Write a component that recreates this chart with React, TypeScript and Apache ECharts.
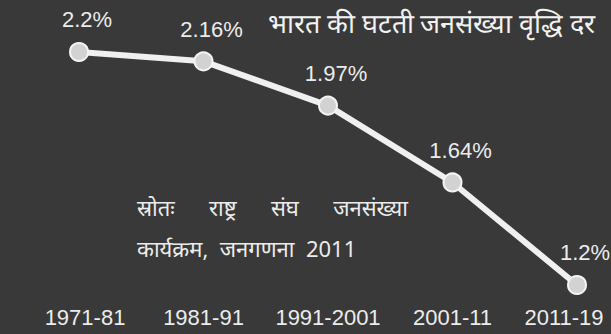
import React, { useEffect, useRef } from "react";
import * as echarts from "echarts";

const categories = ["1971-81", "1981-91", "1991-2001", "2001-11", "2011-19"];
const growthRate = [2.2, 2.16, 1.97, 1.64, 1.2];
const valueLabels = ["2.2%", "2.16%", "1.97%", "1.64%", "1.2%"];
const titleText = "भारत की घटती जनसंख्या वृद्धि दर";
const sourceLine1 = "स्रोतः      राष्ट्र      संघ      जनसंख्या";
const sourceLine2 = "कार्यक्रम,  जनगणना  2011";

export default function App() {
  const ref = useRef<HTMLDivElement>(null);
  useEffect(() => {
    if (!ref.current) return;
    const chart = echarts.init(ref.current, null, { renderer: "svg" });
    const textColor = "#ececec";
    const lastIndex = categories.length - 1;
    chart.setOption({
      animation: false,
      backgroundColor: "#393939",
      title: {
        text: titleText,
        left: 263,
        top: 5,
        textStyle: {
          color: "#f2f2f2",
          fontSize: 27,
          fontWeight: "normal",
          fontFamily: "serif",
        },
      },
      graphic: [
        {
          type: "text",
          left: 137,
          top: 196,
          style: {
            text: sourceLine1,
            fill: textColor,
            fontSize: 22,
            fontFamily: "'Noto Sans', sans-serif",
          },
        },
        {
          type: "text",
          left: 137,
          top: 237,
          style: {
            text: sourceLine2,
            fill: textColor,
            fontSize: 22,
            fontFamily: "'Noto Sans', sans-serif",
          },
        },
      ],
      grid: { left: 79, right: 34, top: 20, bottom: 34, outerBoundsMode: "none", containLabel: false },
      xAxis: [
        {
          type: "category",
          data: categories,
          boundaryGap: false,
          axisLine: { show: false },
          axisTick: { show: false },
          axisLabel: {
            interval: 0,
            hideOverlap: false,
            color: textColor,
            fontSize: 22,
            fontFamily: "'Liberation Sans', Arial, sans-serif",
            margin: 6,
            formatter: (v: string, i: number) =>
              i === 0 ? `{first|${v}}` : i === lastIndex ? `{last|${v}}` : v,
            rich: {
              first: {
                color: textColor,
                fontSize: 22,
                fontFamily: "'Liberation Sans', Arial, sans-serif",
                padding: [0, 0, 0, 12],
              },
              last: {
                color: textColor,
                fontSize: 22,
                fontFamily: "'Liberation Sans', Arial, sans-serif",
                padding: [0, 26, 0, 0],
              },
            },
          },
          splitLine: { show: false },
        },
      ],
      yAxis: {
        type: "value",
        min: 1.1356,
        max: 2.3373,
        show: false,
        splitLine: { show: false },
      },
      series: [
        {
          type: "line",
          data: growthRate,
          symbol: "circle",
          symbolSize: 18,
          lineStyle: { color: "#f0f0f0", width: 6 },
          itemStyle: { color: "#d2d2d2", borderColor: "#f4f4f4", borderWidth: 2 },
          label: {
            show: true,
            position: "top",
            distance: 11,
            offset: [8, 0],
            formatter: (p: any) => valueLabels[p.dataIndex],
            color: textColor,
            fontSize: 22,
            fontFamily: "'Liberation Sans', Arial, sans-serif",
          },
        },
      ],
    });
    return () => chart.dispose();
  }, []);
  return <div ref={ref} style={{ width: 611, height: 334, position: "absolute", left: 0, top: 0 }} />;
}
